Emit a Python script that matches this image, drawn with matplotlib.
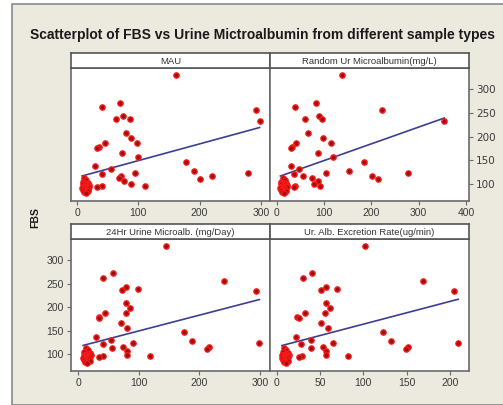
import numpy as np
import matplotlib
matplotlib.use("Agg")
import matplotlib.pyplot as plt
from matplotlib.patches import Rectangle

# ---- data (FBS shared across the four sample types) ----
fbs = [330, 272, 263, 243, 238, 237, 256, 234, 208, 198, 187, 187, 179, 176, 166,
       156, 147, 137, 131, 127, 123, 123, 121, 116, 111, 116, 112, 107, 99, 96, 96, 94,
       112, 108, 105, 103, 101, 100, 99, 98, 97, 96, 95, 94, 93, 92, 91, 90, 89, 88,
       86, 85, 83, 80]
mau = [162, 70, 40, 75, 86, 64, 292, 298, 80, 88, 97, 45, 35, 33, 74,
       100, 177, 29, 56, 191, 94, 279, 41, 220, 200, 71, 69, 77, 88, 111, 40, 32,
       12, 15, 10, 18, 13, 16, 9, 20, 14, 11, 17, 13, 19, 8, 15, 12, 17, 10,
       14, 18, 11, 15]
random_ur = [138, 83, 39, 90, 96, 60, 222, 354, 66, 98, 115, 41, 32, 31, 87,
             120, 185, 31, 48, 153, 105, 277, 37, 201, 213, 55, 74, 87, 79, 91, 39, 36,
             13, 17, 10, 20, 14, 18, 9, 22, 15, 12, 19, 14, 21, 8, 16, 12, 18, 10,
             15, 20, 11, 16]
hr24 = [145, 57, 41, 79, 98, 73, 240, 293, 79, 86, 79, 44, 34, 35, 71,
        81, 174, 30, 54, 188, 91, 299, 40, 216, 212, 74, 56, 80, 80, 118, 40, 34,
        12, 16, 10, 19, 13, 17, 9, 21, 14, 11, 18, 13, 20, 8, 15, 12, 17, 10,
        14, 19, 11, 15]
rate = [102, 41, 30, 56.5, 69.5, 51.5, 169, 205, 56.5, 61.5, 55.7, 32.6, 24, 25.4, 51.5,
        58.8, 123, 22.3, 39.6, 132, 64.6, 209.5, 28.4, 151.4, 148.8, 53.4, 40, 57, 57, 82, 28.8, 25.4,
        9, 11, 7, 13, 9.5, 12, 6.5, 14, 10, 8, 12.5, 9.5, 13.5, 6, 11, 8.5, 12, 7,
        10, 13, 8, 11]

titles = ["MAU", "Random Ur Microalbumin(mg/L)", "24Hr Urine Microalb. (mg/Day)",
          "Ur. Alb. Excretion Rate(ug/min)"]
xticks = [[0, 100, 200, 300], [0, 100, 200, 300, 400], [0, 100, 200, 300], [0, 50, 100, 150, 200]]
yticks = [100, 150, 200, 250, 300]

W, H = 503, 405
fig = plt.figure(figsize=(W / 100, H / 100), dpi=100)
fig.patch.set_facecolor("white")
fig.add_artist(Rectangle((12 / W, 0), 1 - 12 / W + 0.01, (H - 4) / H,
                         transform=fig.transFigure, facecolor="#ece9df",
                         edgecolor="#8a8a8a", linewidth=1.2, zorder=0))

FONT = ["Liberation Sans", "DejaVu Sans"]
fig.text(262 / W, 1 - 35 / H, "Scatterplot of FBS vs Urine Mictroalbumin from different sample types",
         ha="center", va="center", fontsize=10.0, fontweight="bold", color="#1a1a1a",
         family=FONT)
fig.text(35 / W, 1 - 218 / H, "FBS", rotation=90, ha="center", va="center",
         fontsize=7.5, fontweight="bold", color="#1a1a1a", family=FONT)

xs = [mau, random_ur, hr24, rate]
xlims = [(-10, 315), (-14, 406), (-12, 316.5), (-7.7, 222)]
# pixel boxes (left, right, top, bottom) of the plotting areas
boxes = [(71, 270, 68, 201), (270, 469, 68, 201), (71, 270, 239, 371), (270, 469, 239, 371)]
strip_h = 15
frame_c = "#6a6a6a"
tick_c = "#3a3a3a"

for i in range(4):
    l, r, t, b = boxes[i]
    ax = fig.add_axes([l / W, 1 - b / H, (r - l) / W, (b - t) / H])
    ax.set_facecolor("white")
    x = np.array(xs[i], dtype=float)
    y = np.array(fbs, dtype=float)
    ax.scatter(x, y, s=15, facecolor="#9c1010", edgecolor="#ff1a1a", linewidth=0.9, zorder=3)
    k, c = np.polyfit(x, y, 1)
    xx = np.array([x.min(), x.max()])
    ax.plot(xx, k * xx + c, color="#3c3f8f", linewidth=1.2, zorder=2)
    ax.set_xlim(*xlims[i])
    ax.set_ylim(64, 345)
    ax.set_xticks(xticks[i])
    ax.set_yticks(yticks)
    for s in ax.spines.values():
        s.set_color(frame_c)
        s.set_linewidth(1.2)
    ax.tick_params(axis="both", direction="out", length=3, width=0.8, colors=frame_c,
                   labelcolor=tick_c, labelsize=7.5, pad=2)
    for lab in ax.get_xticklabels() + ax.get_yticklabels():
        lab.set_family(FONT)
    if i == 1:
        ax.yaxis.tick_right()
    elif i == 2:
        ax.yaxis.tick_left()
    else:
        ax.tick_params(axis="y", left=False, right=False, labelleft=False, labelright=False)
    # strip
    sax = fig.add_axes([l / W, 1 - t / H, (r - l) / W, strip_h / H])
    sax.set_facecolor("white")
    sax.set_xticks([])
    sax.set_yticks([])
    for s in sax.spines.values():
        s.set_color("#555555")
        s.set_linewidth(1.2)
    sax.text(0.5, 0.45, titles[i], ha="center", va="center", fontsize=6.8, color="#333333",
             family=FONT, transform=sax.transAxes)

fig.savefig("out.png", dpi=100)
